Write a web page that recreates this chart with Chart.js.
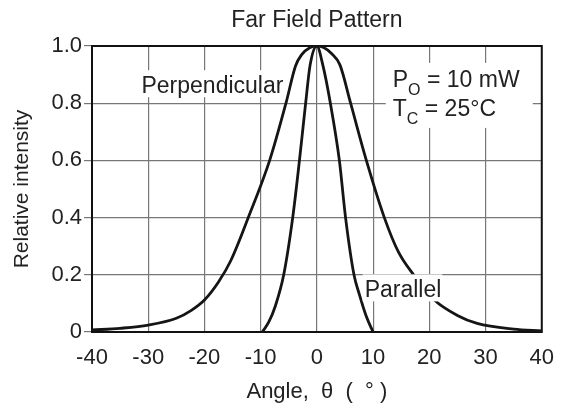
<!DOCTYPE html>
<html>
<head>
<meta charset="utf-8">
<title>Far Field Pattern</title>
<script src="https://cdn.jsdelivr.net/npm/chart.js@4.4.1/dist/chart.umd.min.js"></script>
<style>
  body { margin: 0; background: #fff; }
  canvas { display: block; }
</style>
</head>
<body>
<canvas id="myChart" width="567" height="412"></canvas>
<script>
// angle (deg) and relative intensity
const perpAngle = [-40, -35, -30, -25, -22.4, -20, -17.5, -15.3, -12.2, -8.4, -5.5, -3.8, -2.7, -1.2, 0, 1.2, 2.6, 4.1, 6.0, 8.8, 12, 14.5, 17.2, 20.9, 25, 28.5, 35, 40];
const perpValue = [0.007, 0.013, 0.024, 0.048, 0.075, 0.112, 0.175, 0.25, 0.4, 0.6, 0.8, 0.93, 0.97, 0.995, 1, 0.995, 0.974, 0.934, 0.8, 0.6, 0.4, 0.28, 0.2, 0.112, 0.058, 0.03, 0.01, 0.004];

const paraAngle = [-9.7, -8.55, -7.4, -5.9, -4.3, -3.1, -2.0, -1.2, 0, 1.05, 2.4, 4.0, 5.1, 6.6, 7.5, 8.8, 10];
const paraValue = [0, 0.035, 0.09, 0.2, 0.4, 0.6, 0.8, 0.934, 1, 0.934, 0.8, 0.6, 0.4, 0.2, 0.135, 0.054, 0];

const xTickLabels = ['-40', '-30', '-20', '-10', '0', '10', '20', '30', '40'];
const yTickLabels = ['0', '0.2', '0.4', '0.6', '0.8', '1.0'];

const FONT = '"Liberation Sans", Arial, Helvetica, sans-serif';

function toPoints(xs, ys) {
    return xs.map(function (x, i) { return { x: x, y: ys[i] }; });
}

// frame + labels drawn over the chart
const extras = {
    id: 'extras',
    beforeDatasetsDraw: function (chart) {
        const a = chart.chartArea, ctx = chart.ctx;
        ctx.save();
        ctx.strokeStyle = '#111';
        ctx.lineWidth = 2;
        ctx.strokeRect(a.left, a.top, a.right - a.left, a.bottom - a.top);
        ctx.restore();
    },
    afterDatasetsDraw: function (chart) {
        const ctx = chart.ctx, xs = chart.scales.x, ys = chart.scales.y, a = chart.chartArea;
        ctx.save();
        ctx.fillStyle = '#222';
        ctx.textBaseline = 'alphabetic';

        // title
        ctx.font = '23px ' + FONT;
        ctx.textAlign = 'center';
        ctx.fillText('Far Field Pattern', (a.left + a.right) / 2, 27);
        ctx.textAlign = 'left';

        function label(text, xv, yv) {
            const px = xs.getPixelForValue(xv), py = ys.getPixelForValue(yv);
            ctx.font = '23px ' + FONT;
            const w = ctx.measureText(text).width;
            ctx.fillStyle = '#fff';
            ctx.fillRect(px - 2, py - 23, w + 3, 27);
            ctx.fillStyle = '#222';
            ctx.fillText(text, px, py);
        }
        label('Perpendicular', -31.2, 0.835);
        label('Parallel', 8.5, 0.121);

        // conditions box
        const bx = xs.getPixelForValue(13.5);
        const b1 = ys.getPixelForValue(0.857), b2 = ys.getPixelForValue(0.756);
        ctx.fillStyle = '#fff';
        ctx.fillRect(bx - 7, b1 - 24, 147, 65);
        ctx.fillStyle = '#222';
        function sub(main, s, rest, x, y) {
            ctx.font = '23px ' + FONT;
            ctx.fillText(main, x, y);
            let cx = x + ctx.measureText(main).width;
            ctx.font = '16px ' + FONT;
            ctx.fillText(s, cx, y + 8);
            cx += ctx.measureText(s).width;
            ctx.font = '23px ' + FONT;
            ctx.fillText(rest, cx, y);
        }
        sub('P', 'O', ' = 10 mW', bx, b1);
        sub('T', 'C', ' = 25°C', bx, b2);
        ctx.restore();
    }
};

const ctx = document.getElementById('myChart');

new Chart(ctx, {
    type: 'line',
    data: {
        datasets: [{
            label: 'Perpendicular',
            data: toPoints(perpAngle, perpValue),
            borderColor: '#151515',
            borderWidth: 2.8,
            pointRadius: 0,
            cubicInterpolationMode: 'monotone',
            fill: false
        }, {
            label: 'Parallel',
            data: toPoints(paraAngle, paraValue),
            borderColor: '#151515',
            borderWidth: 2.8,
            pointRadius: 0,
            cubicInterpolationMode: 'monotone',
            fill: false
        }]
    },
    options: {
        responsive: false,
        animation: false,
        devicePixelRatio: 1,
        layout: { padding: { top: 46, right: 22, left: 0, bottom: 0 } },
        plugins: {
            legend: { display: false },
            tooltip: { enabled: false }
        },
        scales: {
            x: {
                type: 'linear',
                min: -40,
                max: 40,
                afterFit: function (s) { s.height = 80; },
                ticks: {
                    stepSize: 10,
                    padding: 13,
                    color: '#222',
                    font: { family: FONT, size: 22 },
                    callback: function (v, i) { return xTickLabels[i]; }
                },
                grid: { color: '#777', lineWidth: 1.2, drawTicks: false },
                border: { display: false },
                title: {
                    display: true,
                    text: 'Angle,  θ  (  ° )',
                    color: '#222',
                    font: { family: FONT, size: 22 },
                    padding: { top: 0, bottom: 7 }
                }
            },
            y: {
                min: 0,
                max: 1,
                afterFit: function (s) { s.width = 92; },
                ticks: {
                    stepSize: 0.2,
                    padding: 2,
                    color: '#222',
                    font: { family: FONT, size: 22 },
                    callback: function (v, i) { return yTickLabels[i]; }
                },
                grid: { color: '#777', lineWidth: 1.2, tickLength: 8 },
                border: { display: false },
                title: {
                    display: true,
                    text: 'Relative intensity',
                    color: '#222',
                    font: { family: FONT, size: 21 },
                    padding: { top: 10, bottom: 0 }
                }
            }
        }
    },
    plugins: [extras]
});
</script>
</body>
</html>
